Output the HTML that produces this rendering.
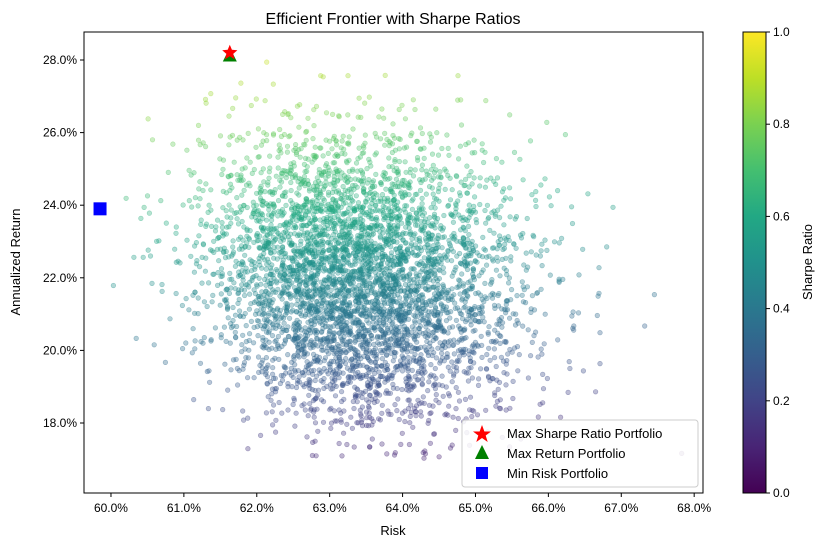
<!DOCTYPE html>
<html><head><meta charset="utf-8"><style>
html,body{margin:0;padding:0;background:#fff;}
svg{display:block;font-family:"Liberation Sans","DejaVu Sans",sans-serif;}
</style></head><body>
<svg id="chart" width="826" height="547" viewBox="0 0 826 547" xmlns="http://www.w3.org/2000/svg">
<defs>
<linearGradient id="viridis" x1="0" y1="1" x2="0" y2="0">
<stop offset="0" stop-color="#440154"/><stop offset="0.1" stop-color="#482475"/><stop offset="0.2" stop-color="#414487"/><stop offset="0.3" stop-color="#355f8d"/><stop offset="0.4" stop-color="#2a788e"/><stop offset="0.5" stop-color="#21918c"/><stop offset="0.6" stop-color="#22a884"/><stop offset="0.7" stop-color="#44bf70"/><stop offset="0.8" stop-color="#7ad151"/><stop offset="0.9" stop-color="#bddf26"/><stop offset="1" stop-color="#fde725"/>
</linearGradient>
<clipPath id="plotclip"><rect x="84" y="32" width="619" height="461"/></clipPath>
</defs>
<text x="393" y="24" text-anchor="middle" font-size="16">Efficient Frontier with Sharpe Ratios</text>
<g id="points" clip-path="url(#plotclip)"></g>
<g id="markers"></g>
<rect x="84" y="32" width="619" height="461" fill="none" stroke="#000" stroke-width="1"/>
<g id="xaxis"></g><g id="yaxis"></g>
<text x="393" y="535" text-anchor="middle" font-size="13">Risk</text>
<text transform="translate(20,262) rotate(-90)" text-anchor="middle" font-size="13">Annualized Return</text>
<rect x="743" y="32" width="23" height="461" fill="url(#viridis)" stroke="#000" stroke-width="1"/>
<g id="cbticks"></g>
<text transform="translate(812,262) rotate(-90)" text-anchor="middle" font-size="13">Sharpe Ratio</text>
<g>
<rect x="462" y="420" width="236" height="67" rx="3" fill="#fff" fill-opacity="0.85" stroke="#ccc"/>
<polygon points="482,425 484.4,431.5 491,431.5 485.7,435.5 487.7,442 482,438 476.3,442 478.3,435.5 473,431.5 479.6,431.5" fill="red"/>
<text x="507" y="438" font-size="13">Max Sharpe Ratio Portfolio</text>
<polygon points="482,445 489,459 475,459" fill="green"/>
<text x="507" y="458" font-size="13">Max Return Portfolio</text>
<rect x="476" y="467" width="12" height="12" fill="blue"/>
<text x="507" y="478" font-size="13">Min Risk Portfolio</text>
</g>
</svg>
<script>
// Density of simulated portfolios (counts per bin)
const riskBins = [60.0,60.5,61.0,61.5,62.0,62.5,63.0,63.5,64.0,64.5,65.0,65.5,66.0,66.5,67.0,67.5];
const returnBins = [27,26,25,24,23,22,21,20,19,18,17];
const counts = [
 [0,0,1,1,2,2,1,1,0,1,0,0,0,0,0,0],
 [0,1,3,5,8,10,9,7,5,3,2,1,0,0,0,0],
 [0,2,6,14,25,35,35,30,22,12,6,3,1,0,0,0],
 [1,4,12,30,55,75,80,70,50,30,15,6,2,1,0,0],
 [2,6,18,45,85,120,130,115,85,50,25,10,4,1,0,0],
 [2,6,20,50,100,150,165,150,110,70,35,14,5,2,0,0],
 [1,5,16,45,95,150,170,160,120,75,40,16,6,2,1,0],
 [1,3,10,30,70,115,140,135,105,65,35,14,5,2,1,0],
 [0,1,5,15,40,70,90,90,70,45,25,10,3,1,0,0],
 [0,0,2,5,15,30,40,42,35,22,12,5,2,1,0,0],
 [0,0,0,1,3,7,10,12,10,6,3,1,0,0,0,1]
];
const xTicks = [60,61,62,63,64,65,66,67,68];
const yTicks = [18,20,22,24,26,28];
const cbTicks = [0,0.2,0.4,0.6,0.8,1.0];
const maxSharpe = {risk:61.63, ret:28.2};
const maxReturn = {risk:61.63, ret:28.15};
const minRisk = {risk:59.85, ret:23.9};

const NS="http://www.w3.org/2000/svg";
const X = v => 84 + (v-59.63)*72.9;
const Y = v => 60 + (28-v)*36.3;
const CB = v => 493 - v*461;
const stops=[[68,1,84],[72,36,117],[65,68,135],[53,95,141],[42,120,142],[33,145,140],[34,168,132],[68,191,112],[122,209,81],[189,223,38],[253,231,37]];
function viridis(t){t=Math.max(0,Math.min(1,t));const f=t*10,i=Math.min(9,Math.floor(f)),u=f-i;const a=stops[i],b=stops[i+1];return `rgb(${Math.round(a[0]+(b[0]-a[0])*u)},${Math.round(a[1]+(b[1]-a[1])*u)},${Math.round(a[2]+(b[2]-a[2])*u)})`;}
function mk(tag,attrs,parent){const e=document.createElementNS(NS,tag);for(const k in attrs)e.setAttribute(k,attrs[k]);parent.appendChild(e);return e;}
function frac(v){return v-Math.floor(v);}
function hashPos(k,s){return frac(Math.sin(k*12.9898+s*78.233)*43758.5453);}

const pg=document.getElementById('points');
let k=0;
for(let r=0;r<returnBins.length;r++){
 for(let c=0;c<riskBins.length;c++){
  const n=counts[r][c];
  for(let i=0;i<n;i++){
   k++;
   const jx=hashPos(k,1), jy=hashPos(k,2);
   const risk=riskBins[c]+0.5*jx;
   const ret=returnBins[r]+jy;
   const s=(ret-15.5)/14 - (risk-63.5)*0.015;
   const col=viridis(s);
   const p=mk('circle',{cx:X(risk).toFixed(1),cy:Y(ret).toFixed(1),r:2.3,fill:col,'fill-opacity':0.35,stroke:col,'stroke-opacity':0.45,'stroke-width':0.6},pg);
   
   
  }
 }
}
const mg=document.getElementById('markers');
const cx=X(maxSharpe.risk), cy=Y(maxSharpe.ret);
let pts=[];for(let i=0;i<10;i++){const a=-Math.PI/2+i*Math.PI/5,rr=i%2?3.6:8;pts.push((cx+rr*Math.cos(a)).toFixed(1)+','+(cy+rr*Math.sin(a)).toFixed(1));}
const tx=X(maxReturn.risk), ty=Y(maxReturn.ret);
const tri=mk('polygon',{points:`${tx},${ty-7} ${tx+7},${ty+7} ${tx-7},${ty+7}`,fill:'green'},mg);


const star=mk('polygon',{points:pts.join(' '),fill:'red'},mg);


const sq=mk('rect',{x:X(minRisk.risk)-6.5,y:Y(minRisk.ret)-6.5,width:13,height:13,fill:'blue'},mg);



const xg=document.getElementById('xaxis');
xTicks.forEach(v=>{const x=X(v);mk('line',{x1:x,x2:x,y1:493,y2:497,stroke:'#000'},xg);
 const t=mk('text',{x:x,y:512,'text-anchor':'middle','font-size':12},xg);t.textContent=v.toFixed(1)+'%';
 
 });
const yg=document.getElementById('yaxis');
yTicks.forEach(v=>{const y=Y(v);mk('line',{x1:80,x2:84,y1:y,y2:y,stroke:'#000'},yg);
 const t=mk('text',{x:77,y:y+4,'text-anchor':'end','font-size':12},yg);t.textContent=v.toFixed(1)+'%';
 
 });
const cg=document.getElementById('cbticks');
cbTicks.forEach(v=>{const y=CB(v);mk('line',{x1:766,x2:770,y1:y,y2:y,stroke:'#000'},cg);
 const t=mk('text',{x:773,y:y+4,'font-size':12},cg);t.textContent=v.toFixed(1);
 
 });
</script>
</body></html>
